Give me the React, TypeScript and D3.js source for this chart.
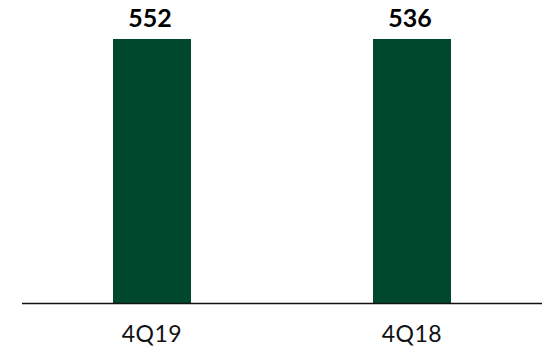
import React from "react";
import * as d3 from "d3";

const categories = ["4Q19", "4Q18"];
const values = [552, 536];

const W = 546;
const H = 348;
const baseY = 303.5;
const topY = 39;

export default function App() {
  const x = d3
    .scaleBand<string>()
    .domain(categories)
    .range([22, 542])
    .paddingInner(0.7)
    .paddingOuter(0.35);

  return (
    <svg
      width={W}
      height={H}
      style={{ position: "absolute", left: 0, top: 0 }}
    >
      {categories.map((c, i) => {
        // each bar is drawn on its own panel scale, as in the original
        const y = d3.scaleLinear().domain([0, values[i]]).range([baseY, topY]);
        const bx = x(c)!;
        const cx = bx + x.bandwidth() / 2;
        return (
          <g key={c}>
            <rect
              x={bx}
              y={y(values[i])}
              width={x.bandwidth()}
              height={y(0) - y(values[i])}
              fill="#00482B"
            />
            <text
              x={cx - 2}
              y={27}
              textAnchor="middle"
              fontFamily="Lato, 'DejaVu Sans', sans-serif"
              fontWeight={700}
              fontSize={25}
              fill="#000"
            >
              {values[i]}
            </text>
            <text
              x={cx}
              y={342}
              textAnchor="middle"
              fontFamily="Lato, 'DejaVu Sans', sans-serif"
              fontWeight={400}
              fontSize={23}
              letterSpacing={0.5}
              fill="#111"
            >
              {c}
            </text>
          </g>
        );
      })}
      <line
        x1={22}
        x2={542}
        y1={baseY}
        y2={baseY}
        stroke="#111"
        strokeWidth={1.6}
      />
    </svg>
  );
}
